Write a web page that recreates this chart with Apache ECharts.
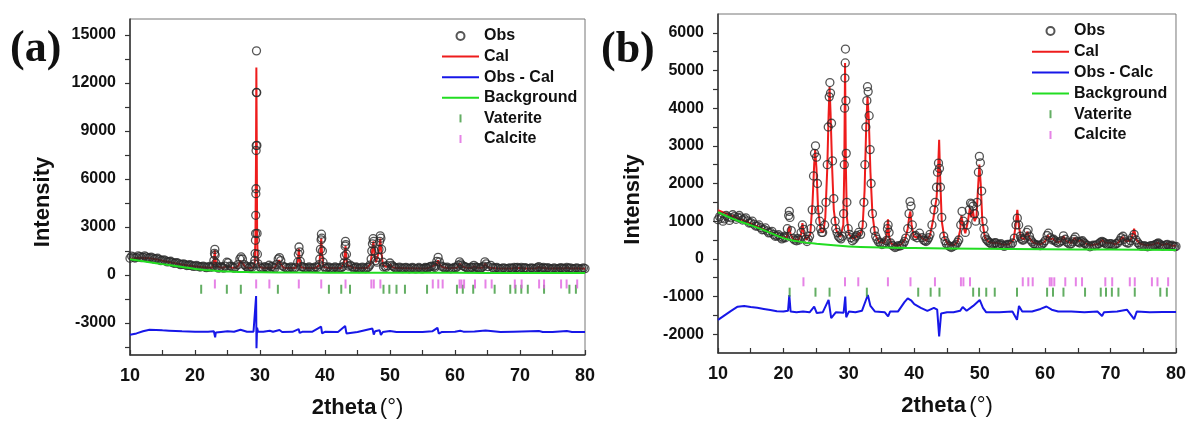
<!DOCTYPE html>
<html>
<head>
<meta charset="utf-8">
<script src="https://cdn.jsdelivr.net/npm/echarts@6/dist/echarts.min.js"></script>
<style>
  html, body { margin: 0; background: #fff; }
  #main { width: 1189px; height: 424px; }
</style>
</head>
<body>
<div id="main"></div>
<script>
// ---- data ----
const xTicks = [10, 15, 20, 25, 30, 35, 40, 45, 50, 55, 60, 65, 70, 75, 80]
const xLabels = [10, 20, 30, 40, 50, 60, 70, 80]
const yTicksA = [-4500, -3000, -1500, 0, 1500, 3000, 4500, 6000, 7500, 9000, 10500, 12000, 13500, 15000]
const yLabelsA = [-3000, 0, 3000, 6000, 9000, 12000, 15000]
const yTicksB = [-2000, -1500, -1000, -500, 0, 500, 1000, 1500, 2000, 2500, 3000, 3500, 4000, 4500, 5000, 5500, 6000]
const yLabelsB = [-2000, -1000, 0, 1000, 2000, 3000, 4000, 5000, 6000]

// reflection positions (2theta)
const calcitePos = [23.06, 29.41, 31.44, 35.97, 39.42, 43.16, 47.13, 47.51, 48.52, 56.58, 57.43, 58.1,
  60.7, 60.99, 61.4, 63.08, 64.69, 65.64, 69.2, 70.25, 72.94, 73.7, 76.32, 77.17, 78.8]
const vateritePos = [20.95, 24.9, 27.05, 32.75, 40.6, 42.5, 43.85, 49.0, 49.9, 51.0, 52.3, 55.7,
  60.3, 61.2, 62.8, 66.1, 68.5, 69.3, 70.2, 71.2, 73.7, 77.6, 78.6]

// panel (a)
const obsA = [[10,1050],[10.5,1120],[11,1090],[11.5,1150],[12,1110],[12.5,1130],[13,1080],[13.5,1060],[14,1020],[14.5,980],[15,920],[15.5,880],[16,840],[16.5,790],[17,750],[17.5,710],[18,670],[18.5,640],[19,610],[19.5,580],[20,560],[20.5,540],[21,520],[21.5,500],[22,490],[22.5,480],
  [22.8,560],[22.9,900],[23.0,1350],[23.05,1600],[23.1,1250],[23.2,750],[23.4,520],[23.8,470],[24.2,470],[24.6,560],[24.9,800],[25.1,760],[25.4,560],[25.8,490],[26.2,500],[26.6,650],[26.9,1000],[27.1,1130],[27.3,1000],[27.6,650],[28.0,500],[28.4,470],[28.8,500],
  [29.1,700],[29.2,920],[29.25,1340],[29.3,2170],[29.32,2590],[29.34,3730],[29.36,5080],[29.38,5390],[29.4,7780],[29.42,8090],[29.44,11410],[29.46,14010],[29.5,11400],[29.52,8100],[29.55,2600],[29.6,1300],[29.7,700],
  [30.0,500],[30.5,460],[31.0,470],[31.4,610],[31.7,520],[32.1,480],[32.5,650],[32.8,1000],[33.0,1090],[33.2,900],[33.5,560],[34.0,460],[34.5,450],[35.0,450],[35.5,480],[35.8,800],[35.9,1300],[36.0,1750],[36.1,1450],[36.2,850],[36.4,520],[36.8,460],[37.3,450],[37.8,450],[38.3,450],[38.8,470],
  [39.1,650],[39.2,1000],[39.3,1600],[39.4,2200],[39.45,2550],[39.5,2300],[39.6,1500],[39.7,800],[39.9,520],[40.3,460],[40.8,450],[41.3,450],[41.8,450],[42.3,460],[42.7,520],[42.9,750],[43.0,1200],[43.1,1800],[43.15,2100],[43.2,1900],[43.3,1300],[43.4,750],[43.6,560],[43.9,610],[44.2,520],[44.6,460],
  [45.0,450],[45.5,440],[46.0,440],[46.5,460],[46.9,620],[47.1,1000],[47.2,1500],[47.3,1950],[47.4,2270],[47.5,2100],[47.6,1500],[47.8,900],[48.0,800],[48.2,1100],[48.3,1600],[48.4,2100],[48.5,2450],[48.6,2300],[48.7,1600],[48.9,800],[49.2,560],[49.6,580],[50.0,750],[50.3,600],[50.7,480],
  [51.2,450],[51.7,440],[52.2,440],[52.7,430],[53.2,430],[53.7,430],[54.2,420],[54.7,420],[55.2,420],[55.6,450],[56.0,490],[56.4,560],[56.7,520],[57.0,600],[57.2,850],[57.4,1100],[57.6,820],[57.9,550],[58.2,500],[58.6,450],[59.1,430],[59.6,420],
  [60.1,450],[60.5,620],[60.7,820],[60.9,700],[61.1,600],[61.4,540],[61.8,460],[62.3,440],[62.7,470],[62.9,600],[63.2,500],[63.6,440],[64.0,440],[64.4,560],[64.6,820],[64.8,700],[65.1,520],[65.5,600],[65.8,480],[66.2,440],[66.7,420],[67.2,410],[67.7,410],[68.2,410],[68.7,420],
  [69.1,480],[69.4,450],[69.8,420],[70.2,470],[70.6,430],[71.0,410],[71.5,410],[72.0,410],[72.5,430],[72.9,520],[73.2,450],[73.6,470],[74.0,420],[74.5,410],[75.0,400],[75.5,400],[76.0,410],[76.4,440],[76.8,420],[77.2,480],[77.5,420],[78.0,400],[78.5,420],[79.0,400],[79.5,400],[80,400],
  // in-between readings of the dense baseline band
  [10.25,1180],[10.75,1060],[11.25,1200],[11.75,1080],[12.25,1190],[12.75,1060],[13.25,1120],[13.75,990],[14.25,1050],[14.75,900],[15.25,950],[15.75,820],[16.25,860],[16.75,730],[17.25,770],[17.75,650],[18.25,700],[18.75,590],[19.25,640],[19.75,540],[20.25,600],[20.75,500],[21.25,560],[21.75,460],[22.25,530],
  [23.6,430],[24.0,520],[24.4,430],[25.6,530],[26.0,430],[27.8,560],[28.2,430],[28.6,530],[30.25,420],[30.75,520],[31.25,430],[31.9,530],[32.3,430],[33.75,500],[34.25,410],[34.75,500],[35.25,410],[36.6,510],[37.05,410],[37.55,500],[38.05,410],[38.55,510],
  [40.1,410],[40.55,500],[41.05,410],[41.55,500],[42.05,410],[42.5,450],[44.4,420],[44.8,500],[45.25,400],[45.75,490],[46.25,400],[46.7,500],[49.0,500],[49.4,480],[50.5,530],[50.9,420],[51.45,490],[51.95,400],[52.45,480],[52.95,390],[53.45,470],[53.95,380],[54.45,470],[54.95,380],
  [55.4,470],[55.8,420],[56.2,520],[56.9,470],[58.4,430],[58.8,490],[59.35,390],[59.85,470],[60.3,500],[61.6,500],[62.05,400],[62.5,490],[63.4,470],[63.8,400],[64.2,490],[65.95,410],[66.45,470],[66.95,380],[67.45,450],[67.95,370],[68.45,450],[68.9,400],[69.6,480],[70.0,400],
  [70.8,460],[71.25,380],[71.75,450],[72.25,380],[72.7,470],[73.4,410],[73.8,420],[74.25,460],[74.75,370],[75.25,440],[75.75,370],[76.2,450],[76.6,400],[77.0,390],[77.75,450],[78.25,370],[78.75,440],[79.25,360],[79.75,440]]
const calA = [[10,1000],[11,1060],[12,1080],[13,1050],[14,980],[15,890],[16,810],[17,730],[18,650],[19,590],[20,540],[21,500],[22,470],[22.6,460],[22.85,650],[22.95,1100],[23.05,1550],[23.15,1000],[23.3,550],[23.6,440],[24.3,440],[24.7,520],[24.95,620],[25.2,540],[25.6,450],
  [26.3,450],[26.7,600],[26.95,880],[27.15,920],[27.4,700],[27.8,470],[28.5,440],[29.0,480],[29.2,800],[29.3,2500],[29.38,7000],[29.44,12970],[29.5,8000],[29.56,2500],[29.65,900],[29.9,520],[30.5,440],[31.2,460],[31.45,480],[31.7,450],[32.3,470],[32.7,750],[32.95,920],[33.2,700],[33.6,460],
  [34.5,430],[35.5,440],[35.85,900],[35.97,1650],[36.1,1000],[36.3,480],[37,430],[38.5,430],[39.1,600],[39.3,1500],[39.42,2300],[39.55,1300],[39.75,520],[40.5,430],[42.5,440],[42.95,800],[43.1,1600],[43.17,1800],[43.3,1000],[43.5,520],[43.85,580],[44.2,470],[45,430],[46.5,440],
  [47.0,700],[47.25,1500],[47.45,2100],[47.6,1300],[47.85,800],[48.1,750],[48.3,1500],[48.5,2270],[48.65,1500],[48.9,650],[49.4,500],[50.0,650],[50.4,480],[51,430],[55.5,410],[56.0,460],[56.5,540],[56.8,470],[57.2,700],[57.4,920],[57.65,650],[58.1,480],[59,420],
  [60.3,450],[60.7,700],[60.95,600],[61.2,520],[61.5,480],[62,430],[62.6,440],[62.95,550],[63.3,450],[64.3,460],[64.65,713],[64.9,520],[65.3,460],[65.6,560],[65.9,440],[66.5,410],[68.8,410],[69.2,460],[69.6,420],[70.2,450],[70.6,410],[72.5,420],[72.9,500],[73.3,430],[73.7,450],[74.2,410],
  [76.3,420],[76.8,410],[77.2,460],[77.6,410],[78.8,420],[80,390]]
const bgA = [[10,980],[12,860],[14,740],[16,620],[18,500],[20,380],[22,300],[24,240],[26,205],[28,185],[30,170],[35,155],[40,148],[50,140],[60,135],[70,130],[80,128]]
const diffA = [[10,-3740],[11,-3650],[12,-3520],[13,-3420],[14,-3430],[15,-3460],[16,-3480],[17,-3500],[18,-3520],[19,-3530],[20,-3540],[21,-3540],[22,-3550],[22.9,-3520],[23.0,-3450],[23.1,-3900],[23.2,-3600],[24,-3560],[25,-3520],[25.3,-3580],[26,-3550],[27.0,-3420],[27.3,-3480],[28,-3550],
  [29.0,-3550],[29.3,-3600],[29.4,-1320],[29.46,-4580],[29.55,-3300],[29.7,-3550],[30.5,-3550],[31.5,-3480],[32,-3550],[33,-3440],[33.4,-3560],[35,-3550],[35.95,-3380],[36.1,-3620],[36.5,-3550],[38,-3550],[39.4,-3230],[39.55,-3640],[40,-3550],[42,-3560],[43.1,-3190],[43.3,-3650],[43.6,-3540],
  [45,-3560],[47.3,-3350],[47.5,-3720],[47.7,-3520],[48.4,-3450],[48.6,-3750],[48.9,-3560],[50,-3500],[51,-3560],[53,-3570],[55,-3560],[56.5,-3520],[57.3,-3300],[57.5,-3660],[58,-3560],[60,-3550],[60.8,-3480],[61.3,-3540],[63,-3530],[64.7,-3470],[65,-3560],[67,-3560],[69,-3540],
  [72.9,-3500],[73.5,-3560],[75,-3560],[77.2,-3500],[78,-3560],[80,-3560]]

// panel (b)
const obsB = [[10,1040],[10.5,1080],[11,1060],[11.5,1110],[12,1090],[12.5,1120],[13,1100],[13.5,1090],[14,1060],[14.5,1010],[15,960],[15.5,920],[16,870],[16.5,830],[17,780],[17.5,740],[18,700],[18.5,650],[19,610],[19.5,580],[20,560],[20.3,560],
  [20.6,800],[20.8,1150],[20.9,1260],[21.0,1100],[21.2,750],[21.5,540],[22,480],[22.4,500],[22.7,700],[22.9,900],[23.1,780],[23.4,520],[23.8,520],[24.2,800],[24.4,1300],[24.6,2200],[24.75,2800],[24.9,3000],[25.05,2700],[25.2,2000],[25.4,1300],[25.7,800],[26.0,700],
  [26.3,900],[26.5,1500],[26.7,2500],[26.85,3500],[27.0,4300],[27.1,4680],[27.2,4400],[27.35,3600],[27.5,2600],[27.7,1600],[27.9,1000],[28.2,700],[28.6,560],[29.0,600],[29.2,1200],[29.3,2500],[29.35,4000],[29.4,4800],[29.45,5200],[29.48,5570],[29.55,4200],[29.6,2800],[29.7,1500],[29.9,800],
  [30.3,560],[30.8,520],[31.2,620],[31.5,700],[31.8,650],[32.1,900],[32.3,1500],[32.45,2500],[32.6,3500],[32.75,4200],[32.85,4570],[32.95,4440],[33.1,3800],[33.25,2900],[33.4,2000],[33.6,1200],[33.9,750],[34.3,520],[34.8,420],[35.3,400],[35.7,480],[35.9,800],[36.0,900],[36.15,700],[36.4,420],
  [36.8,340],[37.3,320],[37.8,340],[38.3,400],[38.7,550],[39.0,800],[39.2,1200],[39.35,1520],[39.5,1400],[39.7,900],[40.0,600],[40.4,560],[40.8,680],[41.2,560],[41.6,480],[42.0,500],[42.4,650],[42.7,900],[43.0,1300],[43.2,1500],[43.4,1900],[43.55,2300],[43.7,2540],[43.85,2400],[44.0,1900],
  [44.2,1100],[44.5,600],[44.9,400],[45.4,330],[45.9,330],[46.4,380],[46.8,500],[47.1,900],[47.3,1260],[47.5,1000],[47.8,700],[48.1,900],[48.4,1300],[48.6,1480],[48.8,1450],[49.0,1400],[49.2,1200],[49.4,1000],[49.6,1500],[49.8,2300],[49.95,2720],[50.1,2550],[50.3,1800],[50.5,1000],
  [50.8,600],[51.2,480],[51.6,420],[52.1,400],[52.5,420],[53.0,380],[53.5,360],[54.0,360],[54.5,380],[55.0,420],[55.3,550],[55.55,900],[55.75,1080],[55.95,900],[56.2,600],[56.5,500],[56.9,550],[57.2,700],[57.4,770],[57.6,600],[58.0,450],[58.5,380],[59.0,360],[59.5,380],
  [60.0,480],[60.3,620],[60.5,680],[60.8,560],[61.1,500],[61.5,480],[62.0,420],[62.5,480],[62.8,610],[63.1,520],[63.5,420],[64.0,400],[64.4,520],[64.6,580],[64.9,460],[65.3,420],[65.7,480],[66.1,400],[66.6,350],[67.1,340],[67.6,350],[68.2,400],[68.7,460],[69.1,420],[69.6,380],
  [70.1,400],[70.6,370],[71.1,420],[71.6,560],[71.9,600],[72.3,450],[72.8,420],[73.3,560],[73.6,650],[73.9,500],[74.4,380],[74.9,340],[75.4,330],[75.9,330],[76.4,350],[76.9,380],[77.3,420],[77.7,360],[78.2,350],[78.7,380],[79.2,340],[79.6,330],[80,330],
  // in-between readings of the dense baseline band
  [10.25,1120],[10.75,1000],[11.25,1150],[11.75,1020],[12.25,1170],[12.75,1050],[13.25,1150],[13.75,1030],[14.25,1090],[14.75,950],[15.25,1000],[15.75,870],[16.25,900],[16.75,770],[17.25,820],[17.75,690],[18.25,730],[18.75,600],[19.25,640],[19.75,530],[20.15,600],[21.7,500],[22.2,540],
  [23.6,460],[24.0,600],[25.55,1000],[25.85,700],[28.0,800],[28.4,600],[28.8,530],[30.1,650],[30.55,480],[31.0,580],[34.1,600],[34.55,450],[35.05,380],[35.5,430],[36.6,360],[37.05,300],[37.55,350],[38.05,360],[38.5,460],[40.2,620],[41.4,500],[41.8,460],[42.2,560],
  [44.7,480],[45.15,360],[45.65,300],[46.15,350],[46.6,440],[50.65,800],[51.0,520],[51.4,440],[51.85,380],[52.3,430],[52.75,370],[53.25,400],[53.75,330],[54.25,380],[54.75,370],[56.35,540],[56.7,500],[57.8,500],[58.25,400],[58.75,360],[59.25,350],[59.75,420],
  [61.3,520],[61.75,440],[62.25,450],[63.3,450],[63.75,390],[64.2,450],[65.1,440],[65.5,460],[65.9,430],[66.35,360],[66.85,320],[67.35,360],[67.85,370],[68.45,440],[68.9,440],[69.35,390],[69.85,400],[70.35,370],[70.85,400],[71.35,480],[72.1,520],[72.55,420],[73.05,480],
  [74.15,430],[74.65,340],[75.15,350],[75.65,320],[76.15,350],[76.65,360],[77.1,400],[77.5,390],[77.95,340],[78.45,370],[78.95,350],[79.4,360],[79.8,320]]
const calB = [[10,1290],[11,1220],[12,1150],[13,1080],[14,1010],[15,940],[16,860],[17,780],[18,700],[19,630],[20,570],[20.5,580],[20.75,750],[20.9,860],[21.1,650],[21.5,520],[22.3,500],[22.7,650],[22.9,950],[23.1,700],[23.5,500],[24.1,650],[24.45,1500],[24.7,2500],[24.85,2890],[25.05,2400],
  [25.3,1300],[25.7,750],[26.1,700],[26.4,1100],[26.7,2400],[26.9,3800],[27.05,4570],[27.2,3900],[27.45,2400],[27.7,1300],[28.1,750],[28.7,580],[29.15,900],[29.3,2400],[29.42,5200],[29.55,2400],[29.7,1100],[30.0,650],[30.6,540],[31.3,600],[31.5,700],[31.7,620],[32.1,850],[32.4,1800],
  [32.65,3500],[32.85,4310],[33.05,3700],[33.3,2300],[33.6,1200],[34.0,650],[34.6,450],[35.4,420],[35.8,650],[35.98,1050],[36.15,600],[36.5,400],[37.2,350],[38.0,380],[38.6,520],[39.0,800],[39.25,1150],[39.4,1260],[39.6,900],[39.9,600],[40.4,560],[40.8,650],[41.2,550],[41.8,480],
  [42.4,620],[42.9,1050],[43.15,1350],[43.4,1600],[43.6,2200],[43.8,3160],[43.95,2200],[44.2,1000],[44.6,550],[45.2,380],[46.0,360],[46.6,440],[47.0,750],[47.2,1150],[47.45,900],[47.8,680],[48.2,1000],[48.5,1350],[48.7,1100],[48.95,1300],[49.2,1000],[49.5,1100],[49.75,1900],
  [49.95,2500],[50.15,2000],[50.4,1000],[50.8,560],[51.3,460],[52.0,420],[52.5,430],[53.5,380],[54.5,390],[55.2,520],[55.5,900],[55.75,1300],[56.0,850],[56.3,560],[56.8,520],[57.3,720],[57.6,550],[58.2,430],[59.2,380],[60.0,460],[60.4,620],[60.8,520],[61.2,540],[61.7,450],
  [62.4,460],[62.8,600],[63.2,470],[64.0,420],[64.5,560],[64.9,460],[65.6,500],[66.1,410],[67.0,360],[68.2,400],[68.7,500],[69.2,430],[70.2,420],[70.7,380],[71.3,450],[71.8,580],[72.3,470],[73.0,480],[73.3,600],[73.6,800],[73.9,520],[74.5,400],[75.5,360],[76.5,380],[77.2,430],
  [77.8,370],[78.7,400],[79.3,350],[80,350]]
const bgB = [[10,1240],[12,1080],[14,950],[16,830],[18,690],[20,550],[22,470],[25,400],[30,330],[35,300],[40,285],[50,270],[60,255],[70,245],[80,235]]
const diffB = [[10,-1620],[11,-1500],[12,-1380],[13,-1270],[14,-1250],[15,-1280],[16,-1300],[17,-1330],[18,-1360],[19,-1390],[20,-1400],[20.7,-1380],[20.9,-960],[21.1,-1400],[22,-1420],[23,-1400],[24,-1420],[24.7,-1270],[25.1,-1440],[26,-1420],[26.9,-1090],[27.3,-1575],[28,-1420],
  [29.2,-1430],[29.45,-1000],[29.6,-1550],[30,-1400],[31,-1420],[32,-1380],[32.6,-1100],[32.9,-960],[33.3,-1250],[34,-1400],[35.5,-1420],[36.0,-1530],[36.3,-1400],[37.5,-1400],[38.5,-1150],[39.0,-1050],[39.5,-1100],[40.0,-1200],[41,-1300],[42,-1380],[43.0,-1300],[43.5,-1350],
  [43.8,-2060],[44.1,-1450],[45,-1420],[46,-1420],[47,-1380],[47.4,-1280],[48,-1380],[49.0,-1250],[50.0,-1090],[50.5,-1300],[51,-1420],[53,-1420],[55,-1400],[55.7,-1620],[56.0,-1250],[56.5,-1400],[58,-1400],[59.3,-1330],[60.2,-1265],[61,-1350],[62,-1400],[64,-1400],[66,-1420],
  [68,-1400],[68.7,-1520],[69,-1420],[71,-1400],[72.5,-1350],[73.6,-1600],[74,-1400],[76,-1420],[78,-1410],[80,-1410]]

const FONT = '"Liberation Sans", Arial, sans-serif'
const TICK_ICON = 'path://M0,0h2v8h-2z'
const LINE_ICON = 'path://M0,0h37v2h-37z'
const C_OBS = '#2a2a2a'
const C_CAL = '#ee1c1c'
const C_DIFF = '#1717e8'
const C_BG = '#22dd22'
const C_VAT = '#3c9a3c'
const C_CALC = '#e064e0'

const chart = echarts.init(document.getElementById('main'))

function xAxisFor (gi) {
  return {
    type: 'value', gridIndex: gi, min: 10, max: 80,
    name: '{b|2theta} {n|(°)}', nameLocation: 'middle', nameGap: 42,
    nameTextStyle: {
      rich: {
        b: { fontSize: 22, fontWeight: 'bold', fontFamily: FONT, color: '#111' },
        n: { fontSize: 22, fontFamily: FONT, color: '#111' }
      }
    },
    axisLine: { onZero: false, lineStyle: { color: '#333', width: 1.5 } },
    axisTick: { inside: true, length: 5, customValues: xTicks, lineStyle: { color: '#333', width: 1.2 } },
    axisLabel: { customValues: xLabels, margin: 12, fontSize: 18, fontWeight: 'bold', color: '#111', fontFamily: FONT },
    splitLine: { show: false }
  }
}

function yAxisFor (gi, min, max, ticks, labels, gap, shift) {
  return {
    type: 'value', gridIndex: gi, min: min, max: max,
    name: 'Intensity', nameLocation: 'middle', nameGap: gap,
    nameTextStyle: { fontSize: 22, fontWeight: 'bold', fontFamily: FONT, color: '#111', padding: [0, shift, 0, 0] },
    axisLine: { show: true, onZero: false, lineStyle: { color: '#333', width: 1.5 } },
    axisTick: { show: true, inside: false, length: 5, customValues: ticks, lineStyle: { color: '#333', width: 1.2 } },
    axisLabel: { customValues: labels, margin: 14, fontSize: 16, fontWeight: 'bold', color: '#111', fontFamily: FONT, formatter: v => String(v) },
    splitLine: { show: false }
  }
}

// obs circles sit over the calc line so the dense baseline stays dark,
// background on top of both like in the original plot
function panelSeries (gi, obs, cal, diff, bg, diffName, calciteY, vateriteY) {
  return [
    { name: 'Cal', type: 'line', xAxisIndex: gi, yAxisIndex: gi, data: cal, symbol: 'none', z: 2, lineStyle: { color: C_CAL, width: 2 }, itemStyle: { color: C_CAL } },
    { name: 'Obs', type: 'scatter', xAxisIndex: gi, yAxisIndex: gi, data: obs, symbol: 'circle', symbolSize: 8, z: 3,
      itemStyle: { color: 'rgba(0,0,0,0)', borderColor: C_OBS, borderWidth: 1.3 } },
    { name: 'Background', type: 'line', xAxisIndex: gi, yAxisIndex: gi, data: bg, symbol: 'none', smooth: true, z: 4, lineStyle: { color: C_BG, width: 2 }, itemStyle: { color: C_BG } },
    { name: diffName, type: 'line', xAxisIndex: gi, yAxisIndex: gi, data: diff, symbol: 'none', z: 2, lineStyle: { color: C_DIFF, width: 2 }, itemStyle: { color: C_DIFF } },
    { name: 'Vaterite', type: 'scatter', xAxisIndex: gi, yAxisIndex: gi, symbol: 'rect', symbolSize: [2, 9],
      data: vateritePos.map(x => [x, vateriteY]), itemStyle: { color: C_VAT } },
    { name: 'Calcite', type: 'scatter', xAxisIndex: gi, yAxisIndex: gi, symbol: 'rect', symbolSize: [2, 9],
      data: calcitePos.map(x => [x, calciteY]), itemStyle: { color: C_CALC } }
  ]
}

function legendFor (left, top, gap, diffName) {
  return {
    left: left, top: top, orient: 'vertical', padding: 0, itemGap: gap,
    itemWidth: 37, itemHeight: 8, selectedMode: false,
    textStyle: { fontSize: 16, fontWeight: 'bold', color: '#111', fontFamily: FONT, lineHeight: 16 },
    data: [
      { name: 'Obs' },
      { name: 'Cal', icon: LINE_ICON },
      { name: diffName, icon: LINE_ICON },
      { name: 'Background', icon: LINE_ICON },
      { name: 'Vaterite', icon: TICK_ICON },
      { name: 'Calcite', icon: TICK_ICON }
    ]
  }
}

const option = {
  animation: false,
  backgroundColor: '#fff',
  grid: [
    { left: 130, top: 19, width: 455, height: 336, show: true, borderColor: '#777', borderWidth: 1 },
    { left: 718, top: 14, width: 460, height: 339, show: true, borderColor: '#777', borderWidth: 1 }
  ],
  xAxis: [xAxisFor(0), xAxisFor(1)],
  yAxis: [
    yAxisFor(0, -5000, 16000, yTicksA, yLabelsA, 76, 30),
    yAxisFor(1, -2500, 6500, yTicksB, yLabelsB, 74, 32)
  ],
  legend: [legendFor(442, 28, 4.6, 'Obs - Cal'), legendFor(1032, 23, 4.8, 'Obs - Calc')],
  graphic: [
    { type: 'text', left: 10, top: 28, style: { text: '(a)', font: 'bold 44px "Liberation Serif", "Times New Roman", serif', fill: '#111' } },
    { type: 'text', left: 601, top: 29, style: { text: '(b)', font: 'bold 44px "Liberation Serif", "Times New Roman", serif', fill: '#111' } }
  ],
  series: [].concat(
    panelSeries(0, obsA, calA, diffA, bgA, 'Obs - Cal', -560, -890),
    panelSeries(1, obsB, calB, diffB, bgB, 'Obs - Calc', -610, -885)
  )
}
chart.setOption(option)
</script>
</body>
</html>
